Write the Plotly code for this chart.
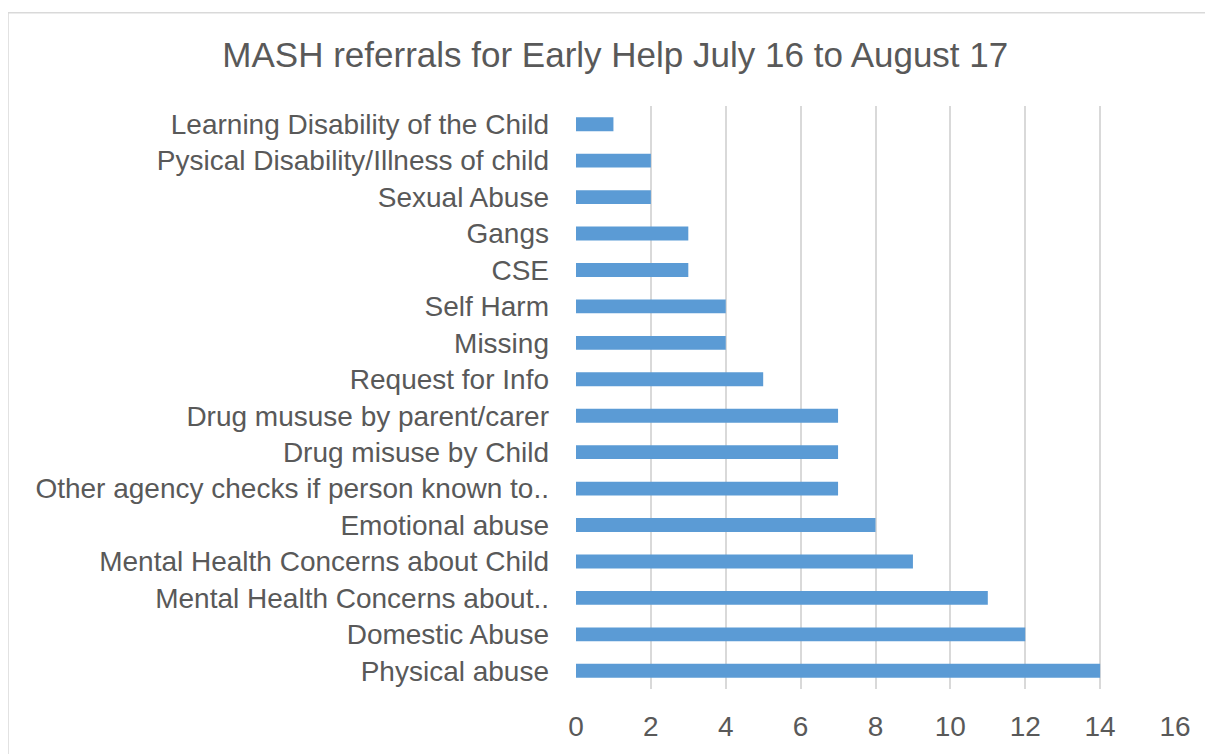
import plotly.graph_objects as go

categories = [
    "Learning Disability of the Child",
    "Pysical Disability/Illness of child",
    "Sexual Abuse",
    "Gangs",
    "CSE",
    "Self Harm",
    "Missing",
    "Request for Info",
    "Drug mususe by parent/carer",
    "Drug misuse by Child",
    "Other agency checks if person known to..",
    "Emotional abuse",
    "Mental Health Concerns about Child",
    "Mental Health Concerns about..",
    "Domestic Abuse",
    "Physical abuse",
]
values = [1, 2, 2, 3, 3, 4, 4, 5, 7, 7, 7, 8, 9, 11, 12, 14]
x_ticks = [0, 2, 4, 6, 8, 10, 12, 14, 16]

fig = go.Figure(go.Bar(
    x=values, y=categories, orientation="h",
    marker=dict(color="#5b9bd5", line=dict(width=0)),
    width=0.38,
))

# page has an 8px body margin; figure sized to fit the window
W, H = 1205, 746
L, R, T, B = 568, 38, 98, 60
pw = W - L - R
ph = H - T - B

def px_x(p):
    return (p - L) / pw

def px_y(p):
    return (H - B - p) / ph

fig.update_layout(
    width=W, height=H,
    margin=dict(l=L, r=R, t=T, b=B),
    paper_bgcolor="white", plot_bgcolor="white",
    font=dict(family="Liberation Sans, Arial, sans-serif", color="#595959", size=28),
    title=dict(text="MASH referrals for Early Help July 16 to August 17",
               x=0.504, xanchor="center", y=1 - 47 / H, yanchor="middle",
               font=dict(size=35, color="#595959")),
    xaxis=dict(range=[0, 16], tickvals=x_ticks, showgrid=True,
               gridcolor="#d9d9d9", gridwidth=1.5, zeroline=False,
               showline=False, ticks="", tickfont=dict(size=28, color="#595959"),
               ticklabelstandoff=18),
    yaxis=dict(autorange="reversed", showgrid=False, showline=False, ticks="",
               tickfont=dict(size=28, color="#595959"), ticklabelstandoff=26),
    showlegend=False,
    shapes=[dict(type="rect", xref="paper", yref="paper",
                 x0=px_x(0), x1=px_x(1240), y0=px_y(790), y1=px_y(4),
                 line=dict(color="#d9d9d9", width=1.5), fillcolor="rgba(0,0,0,0)",
                 layer="below")],
)

fig.write_html("out.html")
